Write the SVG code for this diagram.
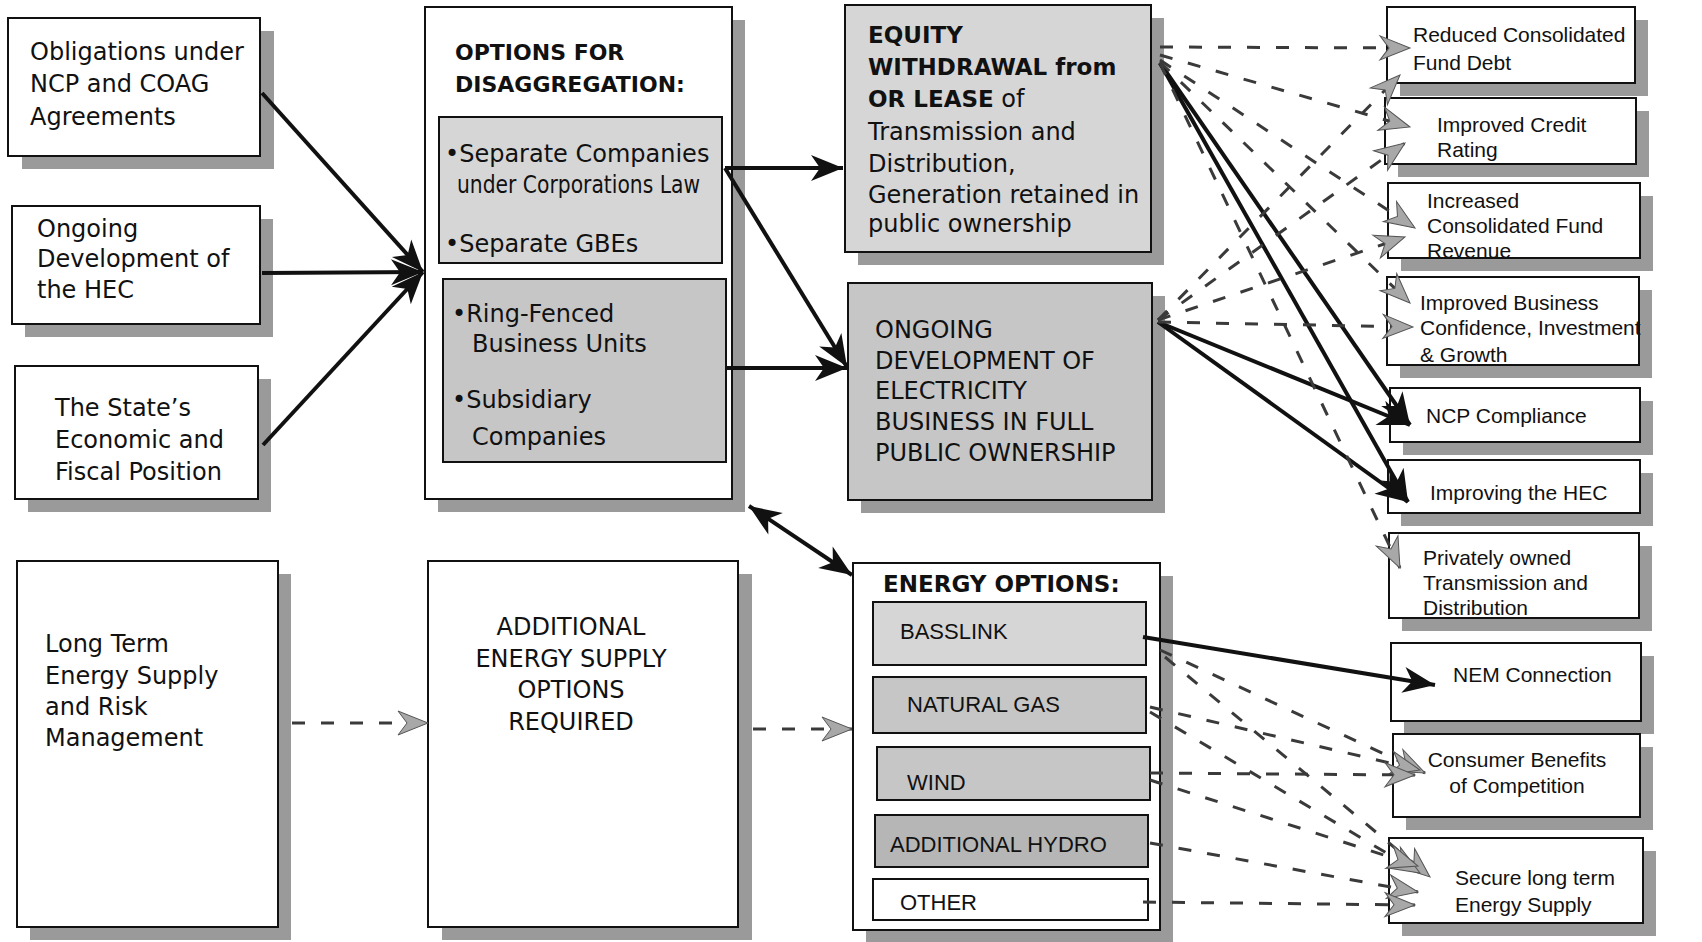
<svg xmlns="http://www.w3.org/2000/svg" width="1702" height="942" viewBox="0 0 1702 942">
<style>
.box{fill:#fff;stroke:#111;stroke-width:2}
.sh{fill:#9a9a9a}
.lt{fill:#d6d6d6;stroke:#111;stroke-width:2}
.md{fill:#c6c6c6;stroke:#111;stroke-width:2}
.dk{fill:#b6b6b6;stroke:#111;stroke-width:2}
.t{font-family:"DejaVu Sans",sans-serif;font-size:24px;fill:#111}
.b{font-family:"DejaVu Sans",sans-serif;font-weight:bold;fill:#111}
.r{font-family:"Liberation Sans",Arial,sans-serif;font-size:21px;fill:#111}
.e{font-family:"Liberation Sans",Arial,sans-serif;font-size:22px;fill:#111}
.sol{stroke:#111;stroke-width:4;fill:none;marker-end:url(#ah)}
.das{stroke:#3a3a3a;stroke-width:3;fill:none;stroke-dasharray:13 16;marker-end:url(#dh)}
</style>
<defs>
<marker id="ah" markerUnits="userSpaceOnUse" markerWidth="34" markerHeight="26" refX="32" refY="13" orient="auto-start-reverse" overflow="visible">
<path d="M0,0 L32,13 L0,26 L9,13 z" fill="#111"/>
</marker>
<marker id="dh" markerUnits="userSpaceOnUse" markerWidth="32" markerHeight="24" refX="30" refY="12" orient="auto" overflow="visible">
<path d="M0,0 L30,12 L0,24 L9,12 z" fill="#a8a8a8" stroke="#555" stroke-width="1"/>
</marker>
</defs>
<rect width="1702" height="942" fill="#fff"/>

<g id="n-obligations">
<rect class="sh" x="22" y="31" width="252" height="138"/>
<rect class="box" x="8" y="18" width="252" height="138"/>
<text class="t" x="30" y="60">Obligations under</text>
<text class="t" x="30" y="92">NCP and COAG</text>
<text class="t" x="30" y="125">Agreements</text>
</g>
<g id="n-ongoing-hec">
<rect class="sh" x="25" y="219" width="248" height="118"/>
<rect class="box" x="12" y="206" width="248" height="118"/>
<text class="t" x="37" y="237">Ongoing</text>
<text class="t" x="37" y="267">Development of</text>
<text class="t" x="37" y="298">the HEC</text>
</g>
<g id="n-state">
<rect class="sh" x="28" y="379" width="243" height="133"/>
<rect class="box" x="15" y="366" width="243" height="133"/>
<text class="t" x="55" y="416">The State’s</text>
<text class="t" x="55" y="448">Economic and</text>
<text class="t" x="55" y="480">Fiscal Position</text>
</g>
<g id="n-options">
<rect class="sh" x="438" y="20" width="307" height="492"/>
<rect class="box" x="425" y="7" width="307" height="492"/>
<text class="b" font-size="22" x="455" y="60">OPTIONS FOR</text>
<text class="b" font-size="22" x="455" y="92">DISAGGREGATION:</text>
<rect class="lt" x="439" y="117" width="283" height="146"/>
<text class="t" x="445" y="162">•Separate Companies</text>
<text class="t" x="457" y="193" font-size="19" textLength="243" lengthAdjust="spacingAndGlyphs">under Corporations Law</text>
<text class="t" x="445" y="252">•Separate GBEs</text>
<rect class="md" x="443" y="279" width="283" height="183"/>
<text class="t" x="452" y="322">•Ring-Fenced</text>
<text class="t" x="472" y="352">Business Units</text>
<text class="t" x="452" y="408">•Subsidiary</text>
<text class="t" x="472" y="445">Companies</text>
</g>
<g id="n-equity">
<rect class="sh" x="858" y="18" width="306" height="247"/>
<rect class="lt" x="845" y="5" width="306" height="247"/>
<text class="b" font-size="23" x="868" y="43">EQUITY</text>
<text class="b" font-size="23" x="868" y="75">WITHDRAWAL from</text>
<text class="t" x="868" y="107"><tspan class="b" font-size="23">OR LEASE</tspan> of</text>
<text class="t" x="868" y="140">Transmission and</text>
<text class="t" x="868" y="172">Distribution,</text>
<text class="t" x="868" y="203">Generation retained in</text>
<text class="t" x="868" y="232">public ownership</text>
</g>
<g id="n-ongoing-elec">
<rect class="sh" x="861" y="296" width="304" height="217"/>
<rect class="md" x="848" y="283" width="304" height="217"/>
<text class="t" font-size="26" x="875" y="338">ONGOING</text>
<text class="t" font-size="26" x="875" y="369">DEVELOPMENT OF</text>
<text class="t" font-size="26" x="875" y="399">ELECTRICITY</text>
<text class="t" font-size="26" x="875" y="430">BUSINESS IN FULL</text>
<text class="t" font-size="26" x="875" y="461">PUBLIC OWNERSHIP</text>
</g>
<g id="n-longterm">
<rect class="sh" x="30" y="574" width="261" height="366"/>
<rect class="box" x="17" y="561" width="261" height="366"/>
<text class="t" x="45" y="652">Long Term</text>
<text class="t" x="45" y="684">Energy Supply</text>
<text class="t" x="45" y="715">and Risk</text>
<text class="t" x="45" y="746">Management</text>
</g>
<g id="n-additional">
<rect class="sh" x="442" y="574" width="310" height="366"/>
<rect class="box" x="428" y="561" width="310" height="366"/>
<text class="t" font-size="26" x="571" y="635" text-anchor="middle">ADDITIONAL</text>
<text class="t" font-size="26" x="571" y="667" text-anchor="middle">ENERGY SUPPLY</text>
<text class="t" font-size="26" x="571" y="698" text-anchor="middle">OPTIONS</text>
<text class="t" font-size="26" x="571" y="730" text-anchor="middle">REQUIRED</text>
</g>
<g id="n-energy">
<rect class="sh" x="866" y="576" width="307" height="367"/>
<rect class="box" x="853" y="563" width="307" height="367"/>
<text class="b" font-size="23" x="883" y="592">ENERGY OPTIONS:</text>
<g id="n-basslink"><rect class="lt" x="873" y="602" width="273" height="63"/><text class="e" x="900" y="639">BASSLINK</text></g>
<g id="n-natgas"><rect class="md" x="873" y="677" width="273" height="56"/><text class="e" x="907" y="712">NATURAL GAS</text></g>
<g id="n-wind"><rect class="md" x="877" y="747" width="273" height="53"/><text class="e" x="907" y="790">WIND</text></g>
<g id="n-hydro"><rect class="dk" x="875" y="815" width="273" height="52"/><text class="e" x="890" y="852">ADDITIONAL HYDRO</text></g>
<g id="n-other"><rect class="box" x="873" y="879" width="275" height="41"/><text class="e" x="900" y="910">OTHER</text></g>
</g>

<g id="n-reduced">
<rect class="sh" x="1400" y="20" width="248" height="76"/>
<rect class="box" x="1387" y="7" width="248" height="76"/>
<text class="r" x="1413" y="42">Reduced Consolidated</text>
<text class="r" x="1413" y="70">Fund Debt</text>
</g>
<g id="n-credit">
<rect class="sh" x="1398" y="111" width="251" height="66"/>
<rect class="box" x="1385" y="98" width="251" height="66"/>
<text class="r" x="1437" y="132">Improved Credit</text>
<text class="r" x="1437" y="157">Rating</text>
</g>
<g id="n-increased">
<rect class="sh" x="1401" y="196" width="252" height="75"/>
<rect class="box" x="1388" y="183" width="252" height="75"/>
<text class="r" x="1427" y="208">Increased</text>
<text class="r" x="1427" y="233">Consolidated Fund</text>
<text class="r" x="1427" y="258">Revenue</text>
</g>
<g id="n-business">
<rect class="sh" x="1400" y="290" width="252" height="88"/>
<rect class="box" x="1387" y="277" width="252" height="88"/>
<text class="r" x="1420" y="310">Improved Business</text>
<text class="r" x="1420" y="335">Confidence, Investment</text>
<text class="r" x="1420" y="362">&amp; Growth</text>
</g>
<g id="n-ncp">
<rect class="sh" x="1403" y="401" width="250" height="54"/>
<rect class="box" x="1390" y="388" width="250" height="54"/>
<text class="r" x="1426" y="423">NCP Compliance</text>
</g>
<g id="n-hec">
<rect class="sh" x="1401" y="473" width="252" height="53"/>
<rect class="box" x="1388" y="460" width="252" height="53"/>
<text class="r" x="1430" y="500">Improving the HEC</text>
</g>
<g id="n-private">
<rect class="sh" x="1402" y="546" width="250" height="85"/>
<rect class="box" x="1389" y="533" width="250" height="85"/>
<text class="r" x="1423" y="565">Privately owned</text>
<text class="r" x="1423" y="590">Transmission and</text>
<text class="r" x="1423" y="615">Distribution</text>
</g>
<g id="n-nem">
<rect class="sh" x="1404" y="656" width="250" height="78"/>
<rect class="box" x="1391" y="643" width="250" height="78"/>
<text class="r" x="1453" y="682">NEM Connection</text>
</g>
<g id="n-consumer">
<rect class="sh" x="1406" y="747" width="247" height="83"/>
<rect class="box" x="1393" y="734" width="247" height="83"/>
<text class="r" x="1517" y="767" text-anchor="middle">Consumer Benefits</text>
<text class="r" x="1517" y="793" text-anchor="middle">of Competition</text>
</g>
<g id="n-secure">
<rect class="sh" x="1402" y="851" width="254" height="85"/>
<rect class="box" x="1389" y="838" width="254" height="85"/>
<text class="r" x="1455" y="885">Secure long term</text>
<text class="r" x="1455" y="912">Energy Supply</text>
</g>

<g id="connectors">
<line class="sol" x1="262" y1="93" x2="423" y2="272"/>
<line class="sol" x1="262" y1="273" x2="423" y2="272"/>
<line class="sol" x1="263" y1="445" x2="423" y2="272"/>
<line class="sol" x1="725" y1="168" x2="843" y2="168"/>
<line class="sol" x1="725" y1="168" x2="847" y2="367"/>
<line class="sol" x1="725" y1="368" x2="847" y2="368"/>
<line class="sol" x1="1160" y1="63" x2="1410" y2="425"/>
<line class="sol" x1="1160" y1="63" x2="1408" y2="502"/>
<line class="sol" x1="1158" y1="322" x2="1410" y2="425"/>
<line class="sol" x1="1158" y1="322" x2="1408" y2="502"/>
<line class="sol" x1="1143" y1="637" x2="1435" y2="685"/>
<line class="sol" x1="749" y1="506" x2="852" y2="575" marker-start="url(#ah)"/>
<line class="das" x1="1160" y1="47" x2="1410" y2="48"/>
<line class="das" x1="1160" y1="55" x2="1410" y2="127"/>
<line class="das" x1="1160" y1="60" x2="1415" y2="228"/>
<line class="das" x1="1160" y1="62" x2="1410" y2="303"/>
<line class="das" x1="1160" y1="63" x2="1400" y2="568"/>
<line class="das" x1="1158" y1="320" x2="1400" y2="75"/>
<line class="das" x1="1158" y1="320" x2="1405" y2="143"/>
<line class="das" x1="1158" y1="320" x2="1405" y2="237"/>
<line class="das" x1="1158" y1="322" x2="1413" y2="327"/>
<line class="das" x1="292" y1="723" x2="428" y2="723"/>
<line class="das" x1="753" y1="729" x2="852" y2="729"/>
<line class="das" x1="1160" y1="650" x2="1425" y2="773"/>
<line class="das" x1="1165" y1="657" x2="1430" y2="877"/>
<line class="das" x1="1150" y1="707" x2="1420" y2="770"/>
<line class="das" x1="1150" y1="712" x2="1420" y2="873"/>
<line class="das" x1="1150" y1="773" x2="1415" y2="775"/>
<line class="das" x1="1150" y1="780" x2="1418" y2="866"/>
<line class="das" x1="1150" y1="843" x2="1418" y2="892"/>
<line class="das" x1="1143" y1="902" x2="1415" y2="905"/>
</g>
</svg>
